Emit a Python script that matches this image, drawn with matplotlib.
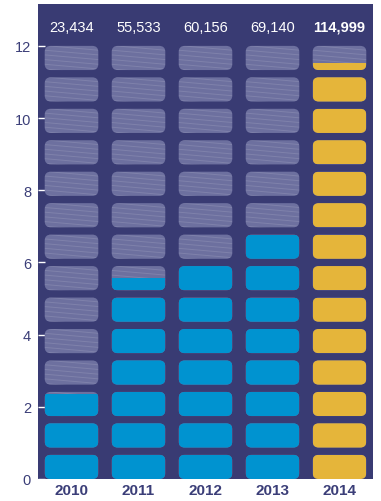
import matplotlib
matplotlib.use("Agg")
import matplotlib.pyplot as plt
from matplotlib.patches import FancyBboxPatch, Rectangle
import numpy as np

# -------------------------------
years = ['2010', '2011', '2012', '2013', '2014']
totals = ['23,434', '55,533', '60,156', '69,140', '114,999']
tiles_filled = [2.9, 6.5, 7.0, 8.0, 13.3]   # tiles coloured per year
n_tiles = 14
yticks = [0, 2, 4, 6, 8, 10, 12]
# -------------------------------

bg = '#393b73'
gray = '#6d709f'
blue = '#0093d0'
gold = '#e5b53a'
navy = '#3b3e78'

plt.rcParams['font.family'] = ['Liberation Sans Narrow', 'Liberation Sans', 'DejaVu Sans']

fig = plt.figure(figsize=(3.81, 5.02), dpi=100)
ax = fig.add_axes([38/381, 22/502, 335/381, 475/502])
ax.set_facecolor(bg)
ax.set_xlim(-0.5, 4.5)
ax.set_ylim(0, 13.16)

w = 0.8
h = 0.67
step = (12 - h) / (n_tiles - 1)
aspect = (335/5) / (433/12)
r = 0.09

for i, year in enumerate(years):
    fill_col = gold if year == '2014' else blue
    for k in range(n_tiles):
        y0 = k * step
        tile = FancyBboxPatch((i - w/2, y0), w, h,
                              boxstyle=f"round,pad=0,rounding_size={r}",
                              mutation_aspect=aspect, fc=gray, ec='none', zorder=2)
        ax.add_patch(tile)
        frac = min(max(tiles_filled[i] - k, 0), 1)
        if frac < 1:
            # faint streaks on the empty tiles
            for s in np.arange(-0.1, h + 0.2, 0.13):
                ln, = ax.plot([i - w/2, i + w/2], [y0 + s, y0 + s - 0.13],
                              color='white', lw=0.7, alpha=0.12, zorder=3)
                ln.set_clip_path(tile)
        if frac > 0:
            rect = Rectangle((i - w/2, y0), w, h * frac, fc=fill_col, ec='none', zorder=4)
            ax.add_patch(rect)
            rect.set_clip_path(tile)
    ax.text(i, 12.53, totals[i], ha='center', va='center', color='white',
            fontsize=10.5, fontweight='bold' if year == '2014' else 'normal')

for s in ax.spines.values():
    s.set_visible(False)

ax.set_xticks(range(len(years)))
ax.set_xticklabels(years, fontsize=11, fontweight='bold', color=navy)
ax.tick_params(axis='x', length=0, pad=3)
ax.set_yticks(yticks)
ax.set_yticklabels([str(v) for v in yticks], fontsize=10.5, color=navy)
ax.tick_params(axis='y', direction='in', length=5, width=1, color='white', pad=5)

fig.savefig('out.png', dpi=100)
